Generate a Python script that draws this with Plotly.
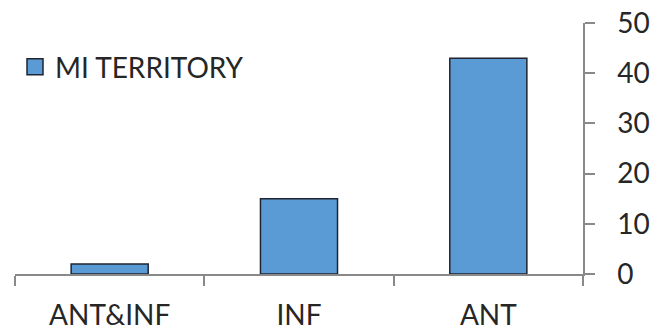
import plotly.graph_objects as go

# MI territory counts per location
categories = ["ANT&INF", "INF", "ANT"]
mi_territory = [2, 15, 43]
series_name = "MI TERRITORY"
y_ticks = [0, 10, 20, 30, 40, 50]

BAR_FILL = "#5B9BD5"
BAR_EDGE = "#1f2430"
AXIS_GREY = "#898989"
TEXT = "#262626"
FONT = "Lato"
FONT_SIZE = 28

fig = go.Figure()

fig.add_trace(go.Bar(
    x=categories,
    y=mi_territory,
    name=series_name,
    marker=dict(color=BAR_FILL, line=dict(color=BAR_EDGE, width=1.5)),
    showlegend=False,
))

# legend swatch (a larger square than the default bar symbol)
fig.add_trace(go.Scatter(
    x=[None], y=[None],
    mode="markers",
    name=series_name,
    marker=dict(symbol="square", size=16, color=BAR_FILL,
                line=dict(color=BAR_EDGE, width=1.5)),
    showlegend=True,
))

fig.update_layout(
    width=666,
    height=334,
    margin=dict(l=15, r=83, t=23, b=60),
    paper_bgcolor="white",
    plot_bgcolor="white",
    bargap=0.593,
    font=dict(family=FONT, size=FONT_SIZE, color=TEXT),
    showlegend=True,
    legend=dict(
        x=0.0, xanchor="left",
        y=0.825, yanchor="middle",
        bgcolor="rgba(0,0,0,0)",
        font=dict(family=FONT, size=FONT_SIZE, color=TEXT),
        itemsizing="trace",
        tracegroupgap=0,
    ),
    xaxis=dict(
        type="category",
        automargin=False,
        showline=True,
        linecolor=AXIS_GREY,
        linewidth=1.5,
        ticks="outside",
        tickson="boundaries",
        ticklen=10,
        tickwidth=1.5,
        tickcolor=AXIS_GREY,
        showgrid=False,
        zeroline=False,
        ticklabelstandoff=16,
        tickfont=dict(family=FONT, size=FONT_SIZE, color=TEXT),
    ),
    yaxis=dict(
        side="right",
        automargin=False,
        range=[0, 50],
        tickvals=y_ticks,
        showline=True,
        linecolor=AXIS_GREY,
        linewidth=1.5,
        ticks="outside",
        ticklen=10,
        tickwidth=1.5,
        tickcolor=AXIS_GREY,
        showgrid=False,
        zeroline=False,
        ticklabelstandoff=17,
        tickfont=dict(family=FONT, size=FONT_SIZE, color=TEXT),
    ),
)

fig.write_html("out.html")
